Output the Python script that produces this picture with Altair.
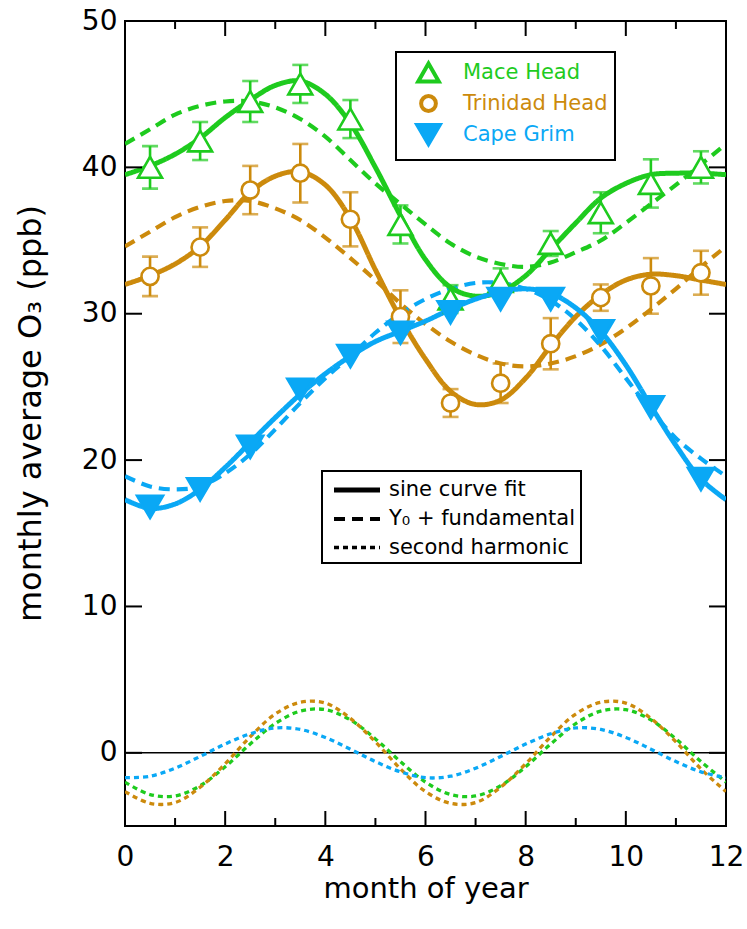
import altair as alt
import pandas as pd

# ---------------- data ----------------
GRID = [0.0, 0.5, 1.0, 1.5, 2.0, 2.5, 3.0, 3.5, 4.0, 4.5, 5.0, 5.5, 6.0,
        6.5, 7.0, 7.5, 8.0, 8.5, 9.0, 9.5, 10.0, 10.5, 11.0, 11.5, 12.0]

MACE_FIT = [39.5, 40.1, 40.9, 42.0, 43.4, 44.6, 45.6, 45.9, 45.0, 43.0, 40.0, 36.7, 33.7,
            31.8, 31.2, 31.5, 32.6, 34.4, 36.2, 37.9, 38.9, 39.5, 39.6, 39.6, 39.5]
MACE_FUND = [41.6, 42.6, 43.6, 44.2, 44.5, 44.5, 44.1, 43.3, 42.1, 40.5, 38.9, 37.5, 36.1,
             34.8, 33.9, 33.4, 33.2, 33.5, 34.2, 35.0, 36.2, 37.5, 38.8, 40.2, 41.6]
MACE_HARM = [-2.0, -2.85, -2.95, -2.25, -0.95, 0.6, 2.0, 2.85, 2.95, 2.25, 0.95, -0.6, -2.0,
             -2.85, -2.95, -2.25, -0.95, 0.6, 2.0, 2.85, 2.95, 2.25, 0.95, -0.6, -2.0]

TRIN_FIT = [32.0, 32.6, 33.4, 34.6, 36.4, 38.3, 39.4, 39.7, 38.8, 36.5, 33.0, 29.7, 26.9,
            24.7, 23.8, 24.1, 25.6, 27.8, 29.8, 31.3, 32.3, 32.7, 32.6, 32.3, 32.0]
TRIN_FUND = [34.6, 35.6, 36.6, 37.3, 37.7, 37.7, 37.2, 36.4, 35.2, 33.8, 32.3, 30.7, 29.3,
             28.1, 27.2, 26.6, 26.4, 26.6, 27.1, 27.9, 29.0, 30.3, 31.7, 33.2, 34.6]
TRIN_HARM = [-2.65, -3.45, -3.4, -2.35, -0.75, 1.1, 2.65, 3.45, 3.4, 2.35, 0.75, -1.1, -2.65,
             -3.45, -3.4, -2.35, -0.75, 1.1, 2.65, 3.45, 3.4, 2.35, 0.75, -1.1, -2.65]

CAPE_FIT = [17.3, 16.7, 17.0, 18.0, 19.5, 21.2, 22.9, 24.5, 25.9, 27.1, 28.1, 28.8, 29.5,
            30.3, 31.0, 31.5, 31.7, 31.4, 30.4, 28.8, 26.5, 23.7, 21.0, 18.7, 17.3]
CAPE_FUND = [18.9, 18.2, 18.0, 18.2, 19.1, 20.4, 22.1, 23.9, 25.6, 27.1, 28.7, 30.0, 31.0,
             31.7, 32.1, 32.1, 31.7, 30.9, 29.6, 27.8, 25.6, 23.4, 21.5, 20.1, 18.9]
CAPE_HARM = [-1.7, -1.6, -1.05, -0.25, 0.6, 1.3, 1.7, 1.6, 1.05, 0.25, -0.6, -1.3, -1.7,
             -1.6, -1.05, -0.25, 0.6, 1.3, 1.7, 1.6, 1.05, 0.25, -0.6, -1.3, -1.7]

MONTHS = [0.5, 1.5, 2.5, 3.5, 4.5, 5.5, 6.5, 7.5, 8.5, 9.5, 10.5, 11.5]
MACE_OBS = [40.0, 41.8, 44.5, 45.7, 43.3, 36.1, 31.0, 32.2, 34.8, 36.9, 38.9, 40.0]
MACE_ERR = [1.45, 1.3, 1.4, 1.3, 1.3, 1.3, 0.95, 0.9, 0.85, 1.4, 1.65, 1.1]
TRIN_OBS = [32.55, 34.55, 38.45, 39.6, 36.45, 29.8, 23.9, 25.25, 27.95, 31.1, 31.9, 32.8]
TRIN_ERR = [1.35, 1.35, 1.65, 2.0, 1.85, 1.8, 0.95, 1.35, 1.75, 0.9, 1.9, 1.5]
CAPE_OBS = [16.8, 18.0, 20.9, 24.8, 27.1, 28.7, 30.1, 31.0, 31.0, 28.8, 23.6, 18.7]

SITES = ["Mace Head", "Trinidad Head", "Cape Grim"]
COLORS = ["#1ecb1e", "#cc8a0c", "#0aa8f5"]
COMPS = ["sine curve fit", "Y\u2080 + fundamental", "second harmonic"]

X_MAJOR = [0, 2, 4, 6, 8, 10, 12]
X_MINOR = [1, 3, 5, 7, 9, 11]
Y_MAJOR = [0, 10, 20, 30, 40, 50]
ZERO = [0]

FONT = "DejaVu Sans"
W, H = 601, 805

# marker outlines (unit symbol paths)
TRI_UP = "M0,-0.8L0.92,0.8L-0.92,0.8Z"
CIRC = "M-0.66,0A0.66,0.66 0 1,0 0.66,0A0.66,0.66 0 1,0 -0.66,0Z"
TRI_DOWN = "M0,0.85L1.0,-0.85L-1.0,-0.85Z"
STROKE_SYM = "M-2,0H2"

# ---------------- tables ----------------
line_rows = []
for site, curves in zip(SITES, [(MACE_FIT, MACE_FUND, MACE_HARM),
                                (TRIN_FIT, TRIN_FUND, TRIN_HARM),
                                (CAPE_FIT, CAPE_FUND, CAPE_HARM)]):
    for comp, vals in zip(COMPS, curves):
        for m, v in zip(GRID, vals):
            line_rows.append({"month": m, "value": v, "site": site, "comp": comp})
lines_df = pd.DataFrame(line_rows)

pt_rows = []
for site, obs, err in zip(SITES, [MACE_OBS, TRIN_OBS, CAPE_OBS],
                          [MACE_ERR, TRIN_ERR, [None] * 12]):
    for m, v, e in zip(MONTHS, obs, err):
        pt_rows.append({"month": m, "value": v, "site": site,
                        "lo": (v - e) if e is not None else None,
                        "hi": (v + e) if e is not None else None})
pts_df = pd.DataFrame(pt_rows)
err_df = pts_df.dropna()

xscale = alt.Scale(domain=[0, 12], nice=False, zero=False)
yscale = alt.Scale(domain=[-5, 50], nice=False, zero=False)
XTITLE = "month of year"
YTITLE = "monthly average O\u2083 (ppb)"

AX_X = alt.Axis(values=X_MAJOR, ticks=False, domain=False, grid=False, labelFlush=False,
                labelFontSize=28, labelFont=FONT, labelColor="black",
                labelPadding=17, titleFontSize=29, titleFont=FONT,
                titleFontWeight="normal", titleColor="black", titlePadding=3)
AX_Y = alt.Axis(values=Y_MAJOR, ticks=False, domain=False, grid=False, labelFlush=False,
                labelFontSize=28, labelFont=FONT, labelColor="black",
                labelPadding=8, titleFontSize=32, titleFont=FONT,
                titleFontWeight="normal", titleColor="black",
                titleX=-95, titleY=392, titleBaseline="middle", titleAlign="center",
                titleAngle=270)


def X(field):
    return alt.X(field, scale=xscale, axis=AX_X, title=XTITLE)


def Y(field):
    return alt.Y(field, scale=yscale, axis=AX_Y, title=YTITLE)


label_expr = ("datum.label == 'Mace Head' ? '%s' : (datum.label == 'Trinidad Head' ? '%s' : '%s')"
              % tuple(COLORS))

# line colours use the same mapping, listed in reverse so that this legend-less
# scale is not merged with the marker legend
line_color = alt.Color("site:N", scale=alt.Scale(domain=SITES[::-1], range=COLORS[::-1]),
                       legend=None)
comp_legend = alt.Legend(title=None, orient="none", legendX=197, legendY=450,
                         symbolType=STROKE_SYM, symbolStrokeColor="black", symbolSize=529,
                         symbolOffset=16, labelOffset=18, labelLimit=400,
                         labelFontSize=21, labelFont=FONT, labelColor="black",
                         padding=5, rowPadding=5,
                         fillColor="white", strokeColor="black")
dash_enc = alt.StrokeDash("comp:N",
                          scale=alt.Scale(domain=COMPS, range=[[1, 0], [11, 7], [5, 4]]),
                          legend=comp_legend)
width_enc = alt.StrokeWidth("comp:N",
                            scale=alt.Scale(domain=COMPS, range=[5, 3.3, 3.5]),
                            legend=comp_legend)


def line_layer(comp):
    return alt.Chart(lines_df).transform_filter(alt.datum.comp == comp).mark_line(
        interpolate="catmull-rom", clip=True).encode(
        x=X("month:Q"), y=Y("value:Q"), color=line_color, strokeDash=dash_enc,
        strokeWidth=width_enc, detail="site:N")


# tick marks drawn inside the frame
major_x = pd.DataFrame({"t": X_MAJOR})
minor_x = pd.DataFrame({"t": X_MINOR})
major_y = pd.DataFrame({"t": Y_MAJOR})

tick_layers = [
    alt.Chart(major_x).mark_rule(color="black", strokeWidth=2).encode(
        x=X("t:Q"), y=alt.value(H), y2=alt.value(H - 15)),
    alt.Chart(major_x).mark_rule(color="black", strokeWidth=2).encode(
        x=X("t:Q"), y=alt.value(0), y2=alt.value(15)),
    alt.Chart(minor_x).mark_rule(color="black", strokeWidth=2).encode(
        x=X("t:Q"), y=alt.value(H), y2=alt.value(H - 8)),
    alt.Chart(minor_x).mark_rule(color="black", strokeWidth=2).encode(
        x=X("t:Q"), y=alt.value(0), y2=alt.value(8)),
    alt.Chart(major_y).mark_rule(color="black", strokeWidth=2).encode(
        y=Y("t:Q"), x=alt.value(0), x2=alt.value(17)),
    alt.Chart(major_y).mark_rule(color="black", strokeWidth=2).encode(
        y=Y("t:Q"), x=alt.value(W - 17), x2=alt.value(W)),
]

zero_line = alt.Chart(pd.DataFrame({"t": ZERO})).mark_rule(
    color="black", strokeWidth=1.5).encode(y=Y("t:Q"), x=alt.value(0), x2=alt.value(W))

err_bars = alt.Chart(err_df).mark_rule(strokeWidth=2.6).encode(
    x=X("month:Q"), y=Y("lo:Q"), y2="hi:Q", color=line_color)
caps_lo = alt.Chart(err_df).mark_tick(orient="horizontal", size=16, thickness=2.6).encode(
    x=X("month:Q"), y=Y("lo:Q"), color=line_color)
caps_hi = alt.Chart(err_df).mark_tick(orient="horizontal", size=16, thickness=2.6).encode(
    x=X("month:Q"), y=Y("hi:Q"), color=line_color)

site_legend = alt.Legend(title=None, orient="none", legendX=271, legendY=31,
                         labelFontSize=21, labelFont=FONT, labelColor={"expr": label_expr},
                         symbolSize=500, symbolStrokeWidth=4, symbolOffset=12,
                         labelOffset=21, padding=7, rowPadding=-3,
                         fillColor="white", strokeColor="black")
points = alt.Chart(pts_df).mark_point(filled=True, opacity=1, strokeWidth=2.6, size=676).encode(
    x=X("month:Q"), y=Y("value:Q"),
    shape=alt.Shape("site:N", scale=alt.Scale(domain=SITES, range=[TRI_UP, CIRC, TRI_DOWN]),
                    legend=site_legend),
    stroke=alt.Stroke("site:N", scale=alt.Scale(domain=SITES, range=COLORS), legend=site_legend),
    fill=alt.Fill("site:N", scale=alt.Scale(domain=SITES, range=["white", "white", COLORS[2]]),
                  legend=site_legend),
)

chart = alt.layer(
    zero_line,
    line_layer(COMPS[2]),
    line_layer(COMPS[1]),
    line_layer(COMPS[0]),
    err_bars, caps_lo, caps_hi,
    points,
    *tick_layers,
).properties(
    width=W, height=H,
    autosize=alt.AutoSizeParams(type="none"),
    padding={"left": 125, "top": 21, "right": 21, "bottom": 103},
    background="white",
).configure_view(
    stroke="black", strokeWidth=2
).configure_legend(
    strokeWidth=2, cornerRadius=0
)

chart.save("out.html", embed_options={"renderer": "svg", "actions": False})
